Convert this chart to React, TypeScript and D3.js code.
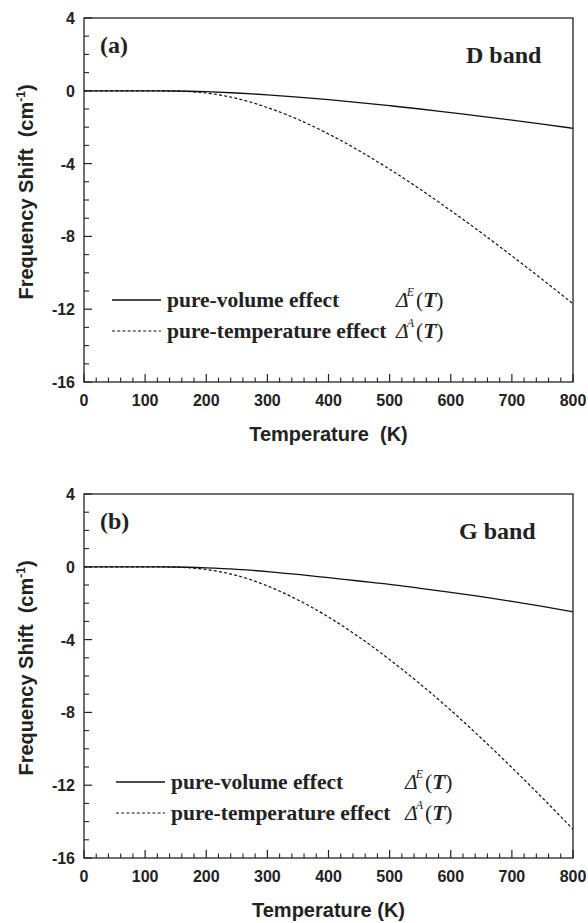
import * as d3 from "d3"

// temperature grid (K)
const temps = [0, 50, 100, 150, 200, 250, 300, 350, 400, 450, 500, 550, 600, 650, 700, 750, 800]

// D band
const dVolume = [0, 0, 0, -0.01, -0.05, -0.12, -0.22, -0.35, -0.49, -0.65, -0.82, -1.0, -1.2, -1.4, -1.61, -1.83, -2.06]
const dTemperature = [0, 0, 0, -0.02, -0.12, -0.42, -0.92, -1.57, -2.37, -3.29, -4.31, -5.41, -6.58, -7.8, -9.07, -10.37, -11.7]

// G band
const gVolume = [0, 0, 0, -0.01, -0.06, -0.14, -0.26, -0.42, -0.6, -0.78, -0.96, -1.18, -1.4, -1.64, -1.9, -2.18, -2.47]
const gTemperature = [0, 0, 0, -0.02, -0.15, -0.48, -1.05, -1.82, -2.76, -3.86, -5.1, -6.44, -7.88, -9.42, -11.03, -12.7, -14.42]

const xTicks = [0, 100, 200, 300, 400, 500, 600, 700, 800]
const yTicks = [4, 0, -4, -8, -12, -16]

const sans = "'Liberation Sans', Arial, Helvetica, sans-serif"
const serif = "'Liberation Serif', 'Times New Roman', serif"

type PanelProps = {
    top: number
    volume: number[]
    temperature: number[]
    tag: string
    band: string
    bandX: number
    xTitle: string
    legendX: number
    legendY: number
    deltaX: number
}

function Panel({ top, volume, temperature, tag, band, bandX, xTitle, legendX, legendY, deltaX }: PanelProps) {
    const left = 84
    const right = 573
    const bottom = top + 364

    const x = d3.scaleLinear().domain([0, 800]).range([left, right])
    const y = d3.scaleLinear().domain([-16, 4]).range([bottom, top])

    const line = d3
        .line<number>()
        .x((_, i) => x(temps[i]))
        .y((d) => y(d))
        .curve(d3.curveMonotoneX)

    const minorX = d3.range(0, 801, 20).filter((t) => t % 100 !== 0)
    const minorY = d3.range(-16, 5, 1).filter((t) => t % 4 !== 0)
    const midY = (top + bottom) / 2 - 8

    return (
        <g>
            {/* lines */}
            <path d={line(volume) ?? ""} fill="none" stroke="#111" strokeWidth={1.3} />
            <path d={line(temperature) ?? ""} fill="none" stroke="#111" strokeWidth={1.2} strokeDasharray="3,2.2" />

            {/* frame */}
            <rect x={left} y={top} width={right - left} height={bottom - top} fill="none" stroke="#222" strokeWidth={1.3} />

            {/* y axis */}
            {yTicks.map((t) => (
                <g key={t}>
                    <line x1={left} x2={left + 8} y1={y(t)} y2={y(t)} stroke="#222" strokeWidth={1.2} />
                    <text x={75} y={y(t) + 6} textAnchor="end" fontFamily={sans} fontWeight="bold" fontSize={16} fill="#222">
                        {t}
                    </text>
                </g>
            ))}
            {minorY.map((t) => (
                <line key={t} x1={left} x2={left + 5} y1={y(t)} y2={y(t)} stroke="#222" strokeWidth={1.1} />
            ))}

            {/* x axis */}
            {xTicks.map((t) => (
                <g key={t}>
                    <line x1={x(t)} x2={x(t)} y1={bottom} y2={bottom - 8} stroke="#222" strokeWidth={1.2} />
                    <text x={x(t)} y={bottom + 24} textAnchor="middle" fontFamily={sans} fontWeight="bold" fontSize={16} fill="#222">
                        {t}
                    </text>
                </g>
            ))}
            {minorX.map((t) => (
                <line key={t} x1={x(t)} x2={x(t)} y1={bottom} y2={bottom - 4.5} stroke="#222" strokeWidth={1.1} />
            ))}

            {/* axis titles */}
            <text
                x={(left + right) / 2}
                y={bottom + 59}
                textAnchor="middle"
                fontFamily={sans}
                fontWeight="bold"
                fontSize={20}
                fill="#222"
                style={{ whiteSpace: "pre" }}
            >
                {xTitle}
            </text>
            <text
                transform={`translate(33,${midY}) rotate(-90)`}
                textAnchor="middle"
                fontFamily={sans}
                fontWeight="bold"
                fontSize={20}
                fill="#222"
                style={{ whiteSpace: "pre" }}
            >
                {"Frequency Shift  (cm"}
                <tspan fontSize={12} dy={-8}>-1</tspan>
                <tspan dy={8}>)</tspan>
            </text>

            {/* panel labels */}
            <text x={100} y={top + 35} fontFamily={serif} fontWeight="bold" fontSize={24} fill="#222">
                {tag}
            </text>
            <text x={bandX} y={top + 45} fontFamily={serif} fontWeight="bold" fontSize={24} fill="#222">
                {band}
            </text>

            {/* legend */}
            <line x1={legendX} x2={legendX + 49} y1={legendY} y2={legendY} stroke="#111" strokeWidth={1.3} />
            <line x1={legendX} x2={legendX + 49} y1={legendY + 31} y2={legendY + 31} stroke="#111" strokeWidth={1.2} strokeDasharray="3,2.2" />
            <text x={legendX + 55} y={legendY + 7} fontFamily={serif} fontWeight="bold" fontSize={21.5} fill="#222">
                pure-volume effect
            </text>
            <text x={legendX + 55} y={legendY + 38} fontFamily={serif} fontWeight="bold" fontSize={21.5} fill="#222">
                pure-temperature effect
            </text>
            {["E", "A"].map((s, i) => (
                <text key={s} x={deltaX} y={legendY + 7 + i * 31} fontFamily={serif} fontSize={21.5} fill="#222">
                    <tspan fontStyle="italic">Δ</tspan>
                    <tspan fontStyle="italic" fontSize={12} dx={-2} dy={-11}>{s}</tspan>
                    <tspan dx={2} dy={11}>(</tspan>
                    <tspan fontStyle="italic" fontWeight="bold">T</tspan>
                    <tspan>)</tspan>
                </text>
            ))}
        </g>
    )
}

export default function App() {
    return (
        <svg
            width={588}
            height={923}
            viewBox="0 0 588 923"
            style={{ position: "absolute", left: 0, top: 0, background: "#fff" }}
        >
            <Panel
                top={18}
                volume={dVolume}
                temperature={dTemperature}
                tag="(a)"
                band="D band"
                bandX={466}
                xTitle="Temperature  (K)"
                legendX={112}
                legendY={300}
                deltaX={396}
            />
            <Panel
                top={494}
                volume={gVolume}
                temperature={gTemperature}
                tag="(b)"
                band="G band"
                bandX={459}
                xTitle="Temperature (K)"
                legendX={116}
                legendY={782}
                deltaX={405}
            />
        </svg>
    )
}
